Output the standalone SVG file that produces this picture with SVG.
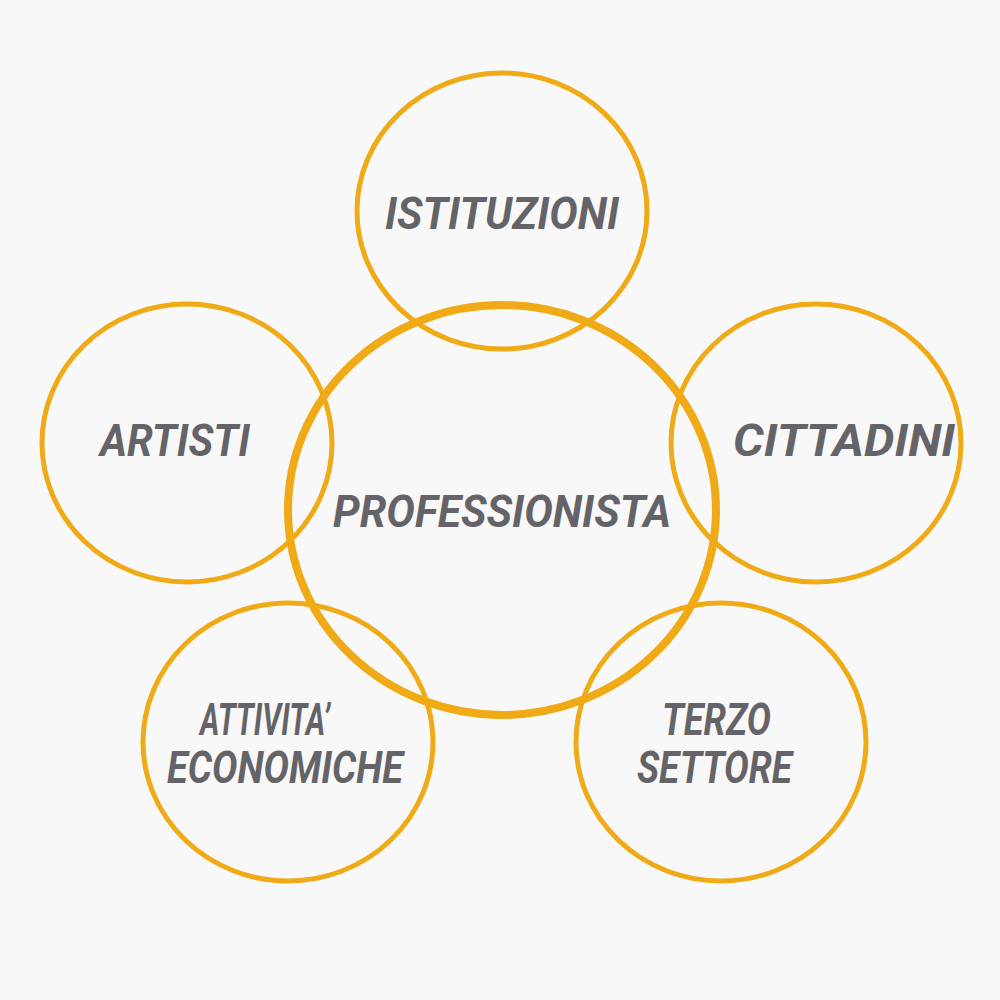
<svg xmlns="http://www.w3.org/2000/svg" width="1000" height="1000" viewBox="0 0 1000 1000">
<style>
.c{fill:none;stroke:#EFAA16;stroke-width:5}
.big{fill:none;stroke:#EFAA16;stroke-width:8}
.t{font-family:Roboto,"Liberation Sans",sans-serif;font-weight:bold;font-style:italic;fill:#646468;font-size:45px}
</style>
<rect width="1000" height="1000" fill="#F8F8F8"/>
<g id="istituzioni"><ellipse class="c" cx="502" cy="211" rx="145" ry="138"/><text class="t" x="385" y="229" textLength="234" lengthAdjust="spacingAndGlyphs">ISTITUZIONI</text></g>
<g id="artisti"><ellipse class="c" cx="187" cy="443" rx="145" ry="139"/><text class="t" x="100" y="456" textLength="150" lengthAdjust="spacingAndGlyphs">ARTISTI</text></g>
<g id="cittadini"><ellipse class="c" cx="816" cy="443" rx="145" ry="139"/><text class="t" x="733" y="456" textLength="222" lengthAdjust="spacingAndGlyphs">CITTADINI</text></g>
<g id="attivita"><ellipse class="c" cx="288" cy="742" rx="145" ry="139"/><text class="t" font-size="42" x="200" y="735" textLength="130" lengthAdjust="spacingAndGlyphs">ATTIVITA’</text><text class="t" font-size="42" x="167" y="783" textLength="236" lengthAdjust="spacingAndGlyphs">ECONOMICHE</text></g>
<g id="terzo"><ellipse class="c" cx="721" cy="742" rx="145" ry="139"/><text class="t" font-size="42" x="662" y="735" textLength="109" lengthAdjust="spacingAndGlyphs">TERZO</text><text class="t" font-size="42" x="637" y="783" textLength="155" lengthAdjust="spacingAndGlyphs">SETTORE</text></g>
<g id="professionista"><ellipse class="big" cx="502" cy="510" rx="214" ry="205"/><text class="t" font-size="48" x="333" y="527" textLength="338" lengthAdjust="spacingAndGlyphs">PROFESSIONISTA</text></g>
<g id="connectors"></g>
</svg>
